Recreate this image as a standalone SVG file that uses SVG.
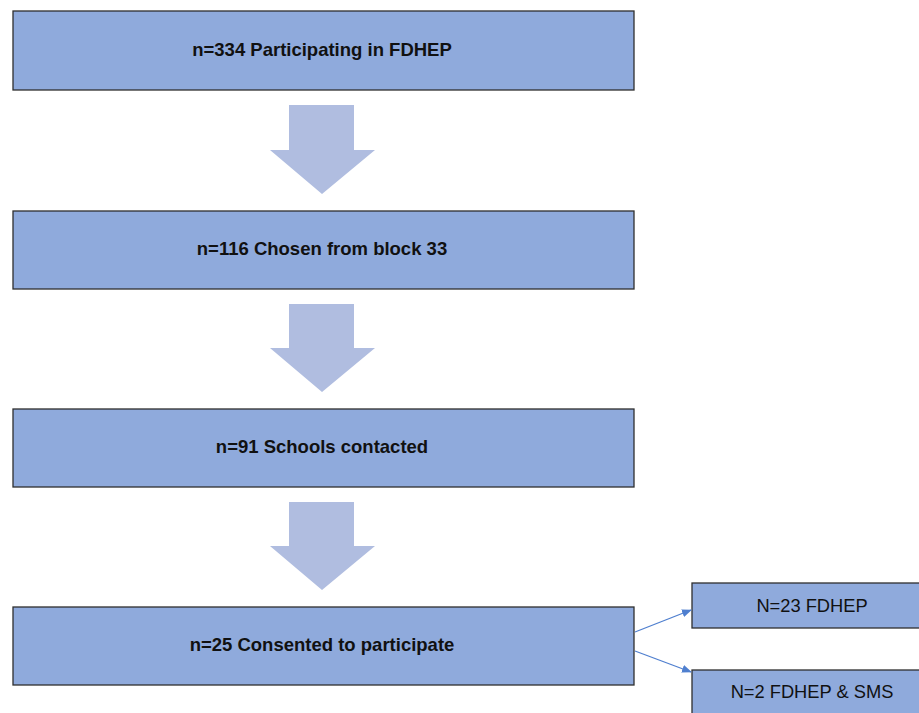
<svg xmlns="http://www.w3.org/2000/svg" width="919" height="713" viewBox="0 0 919 713">
<style>
.box{fill:#8faadc;stroke:#2f2f2f;stroke-width:1.3}
.blk{fill:#b0bde0}
.t{font-family:"Liberation Sans",Arial,sans-serif;font-weight:bold;font-size:18.5px;fill:#111;text-anchor:middle;dominant-baseline:central}
.r{font-family:"Liberation Sans",Arial,sans-serif;font-size:18.3px;fill:#111;text-anchor:middle;dominant-baseline:central}
.ln{stroke:#4f7fcf;stroke-width:1.3;fill:none}
</style>
<defs>
<marker id="ah" markerWidth="10" markerHeight="8" refX="9" refY="4" orient="auto" markerUnits="userSpaceOnUse">
<path d="M0,0 L10,4 L0,8 Z" fill="#4f7fcf"/>
</marker>
</defs>
<g id="n1"><rect class="box" x="13" y="11" width="621" height="79"/><text class="t" x="322" y="49">n=334 Participating in FDHEP</text></g>
<g id="n2"><rect class="box" x="13" y="211" width="621" height="78"/><text class="t" x="322" y="248">n=116 Chosen from block 33</text></g>
<g id="n3"><rect class="box" x="13" y="409" width="621" height="78"/><text class="t" x="322" y="446">n=91 Schools contacted</text></g>
<g id="n4"><rect class="box" x="13" y="607" width="621" height="78"/><text class="t" x="322" y="644">n=25 Consented to participate</text></g>
<g id="n5"><rect class="box" x="692" y="583" width="235" height="45"/><text class="r" x="812" y="605">N=23 FDHEP</text></g>
<g id="n6"><rect class="box" x="692" y="670" width="235" height="50"/><text class="r" x="812" y="691">N=2 FDHEP &amp; SMS</text></g>
<g id="connectors">
<path class="blk" d="M289,105 H354 V150 H375 L322,194 L270,150 H289 Z"/>
<path class="blk" d="M289,304 H354 V348 H375 L322,392 L270,348 H289 Z"/>
<path class="blk" d="M289,502 H354 V546 H375 L322,590 L270,546 H289 Z"/>
<line class="ln" x1="635" y1="632" x2="691" y2="610" marker-end="url(#ah)"/>
<line class="ln" x1="635" y1="651" x2="691" y2="672" marker-end="url(#ah)"/>
</g>
</svg>
